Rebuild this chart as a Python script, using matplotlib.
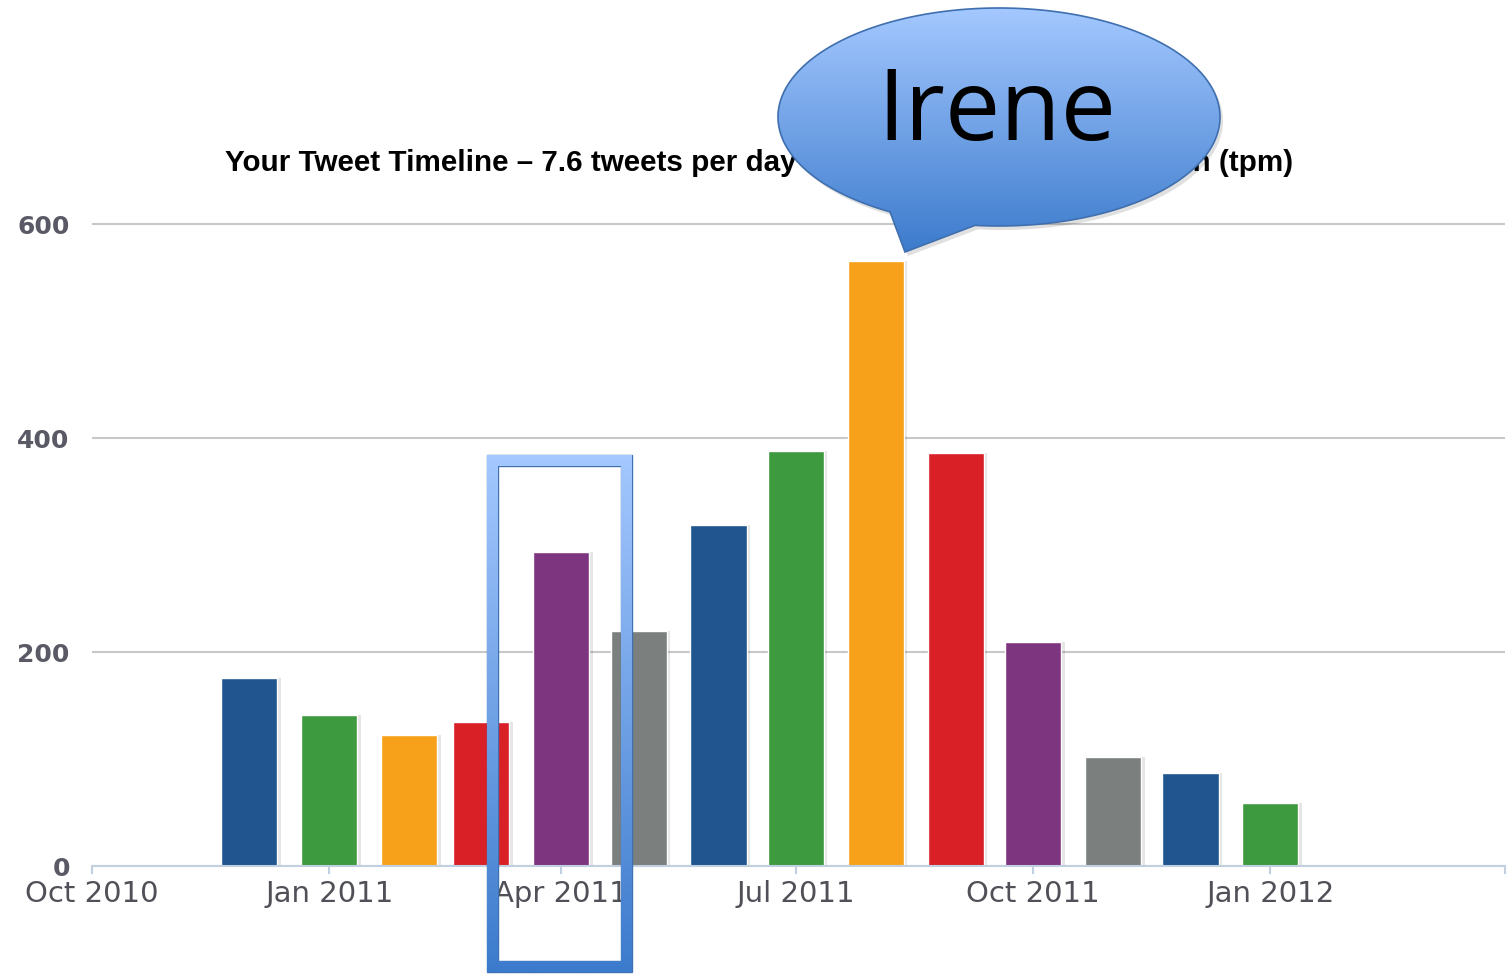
import numpy as np
import matplotlib
matplotlib.use('Agg')
import matplotlib.pyplot as plt
import matplotlib.dates as mdates
from matplotlib.path import Path
from matplotlib.patches import PathPatch
from matplotlib.colors import LinearSegmentedColormap
import datetime as dt

# ---------------- data ----------------
months = ['2010-12-01', '2011-01-01', '2011-02-01', '2011-03-01', '2011-04-01',
          '2011-05-01', '2011-06-01', '2011-07-01', '2011-08-01', '2011-09-01',
          '2011-10-01', '2011-11-01', '2011-12-01', '2012-01-01']
tweets = [176, 141, 122, 135, 293, 220, 319, 388, 565, 386, 209, 102, 87, 59]
palette = ['#20558f', '#3e9a3e', '#f7a11a', '#d92027', '#7e3580', '#7b7f7e']
tick_dates = ['2010-10-01', '2011-01-01', '2011-04-01', '2011-07-01',
              '2011-10-01', '2012-01-01', '2012-04-01']
tick_labels = ['Oct 2010', 'Jan 2011', 'Apr 2011', 'Jul 2011',
               'Oct 2011', 'Jan 2012', '']
y_ticks = [0, 200, 400, 600]
title_left = 'Your Tweet Timeline \u2013 7.6 tweets per day'
title_right = '231.2 tweets per month (tpm)'
callout_text = 'Irene'

W, H = 1509, 976
fig = plt.figure(figsize=(W / 100, H / 100), dpi=100)
fig.patch.set_facecolor('white')

ax = fig.add_axes([92 / W, 1 - 866 / H, (1505 - 92) / W, (866 - 224) / H * 605 / 600])
ax.set_facecolor('white')

xd = mdates.date2num([dt.datetime.strptime(m, '%Y-%m-%d') for m in months])
colors = [palette[i % len(palette)] for i in range(len(tweets))]
bw = 21.8
# shadow
ax.bar(xd + 1.3, tweets, width=bw, color='black', alpha=0.10, zorder=2, linewidth=0)
ax.bar(xd, tweets, width=bw, color=colors, edgecolor='white', linewidth=1.0, zorder=3)

x0 = mdates.date2num(dt.datetime(2010, 10, 1))
x1 = mdates.date2num(dt.datetime(2012, 4, 1))
ax.set_xlim(x0, x1)
ax.set_ylim(0, 605)

ax.set_yticks(y_ticks)
ax.set_yticklabels([str(v) for v in y_ticks])
ax.yaxis.grid(True, color='#c8c8c8', linewidth=1.5, zorder=1)
ax.set_axisbelow(True)
ax.tick_params(axis='y', length=0, pad=16, labelsize=18, labelcolor='#5a5a66')
for lab in ax.get_yticklabels():
    lab.set_fontweight('bold')
    lab.set_family(['DejaVu Sans'])

ax.set_xticks(mdates.date2num([dt.datetime.strptime(d, '%Y-%m-%d') for d in tick_dates]))
ax.set_xticklabels(tick_labels)
ax.tick_params(axis='x', length=6, width=1.5, color='#c0d0e0', pad=4,
               labelsize=21, labelcolor='#505058')
for lab in ax.get_xticklabels():
    lab.set_family(['DejaVu Sans'])

for s in ['top', 'right', 'left']:
    ax.spines[s].set_visible(False)
ax.spines['bottom'].set_color('#c0d0e0')
ax.spines['bottom'].set_linewidth(1.5)
ax.spines['bottom'].set_zorder(4)

tkw = dict(va='center', fontsize=21.3, fontweight='bold', color='black',
           family=['Liberation Sans', 'DejaVu Sans'])
fig.text(225 / W, 1 - 163 / H, title_left, ha='left', **tkw)
fig.text(1293 / W, 1 - 163 / H, title_right, ha='right', **tkw)

# ---------------- overlay annotations (pixel coords) ----------------
ov = fig.add_axes([0, 0, 1, 1], zorder=10)
ov.set_facecolor('none')
ov.axis('off')
cmap = LinearSegmentedColormap.from_list('g', ['#a4c8ff', '#3c7bcc'])
grad = np.linspace(0, 1, 256).reshape(-1, 1)

# rectangle frame (ring)
ox0, oy0, ox1, oy1 = 487, 455, 632, 972
ix0, iy0, ix1, iy1 = 498, 466, 621, 961
verts = [(ox0, oy0), (ox1, oy0), (ox1, oy1), (ox0, oy1), (ox0, oy0),
         (ix0, iy0), (ix0, iy1), (ix1, iy1), (ix1, iy0), (ix0, iy0)]
codes = [Path.MOVETO, Path.LINETO, Path.LINETO, Path.LINETO, Path.CLOSEPOLY] * 2
ring = Path(verts, codes)
ring_patch = PathPatch(ring, facecolor='none', edgecolor='#3f70b0', linewidth=1.0)
ov.add_patch(ring_patch)
im = ov.imshow(grad, cmap=cmap, extent=(ox0, ox1, oy1, oy0), origin='upper',
               aspect='auto', zorder=9)
im.set_clip_path(ring_patch)

# callout ellipse with tail
cx, cy, a, b = 999, 117, 221, 109
thL = np.arccos((890 - cx) / a)
thR = np.arccos((975 - cx) / a) + 2 * np.pi
th = np.linspace(thL, thR, 300)
pts = [(905, 252)] + [(cx + a * np.cos(t), cy + b * np.sin(t)) for t in th] + [(905, 252)]
ccodes = [Path.MOVETO] + [Path.LINETO] * (len(pts) - 2) + [Path.CLOSEPOLY]
callout = Path(pts, ccodes)
sh = PathPatch(Path([(x + 3, y + 4) for x, y in pts], ccodes), facecolor='black',
               alpha=0.12, edgecolor='none', zorder=8)
ov.add_patch(sh)
cpatch = PathPatch(callout, facecolor='none', edgecolor='#3f6fae', linewidth=1.2, zorder=11)
ov.add_patch(cpatch)
im2 = ov.imshow(grad, cmap=cmap, extent=(cx - a, cx + a, 253, cy - b), origin='upper',
                aspect='auto', zorder=9)
im2.set_clip_path(cpatch)
ov.text(997, 140, callout_text, ha='center', va='baseline', fontsize=71,
        color='black', family=['Open Sans', 'DejaVu Sans'], zorder=12)

ov.set_xlim(0, W)
ov.set_ylim(H, 0)

fig.savefig('out.png', dpi=100, facecolor='white')
